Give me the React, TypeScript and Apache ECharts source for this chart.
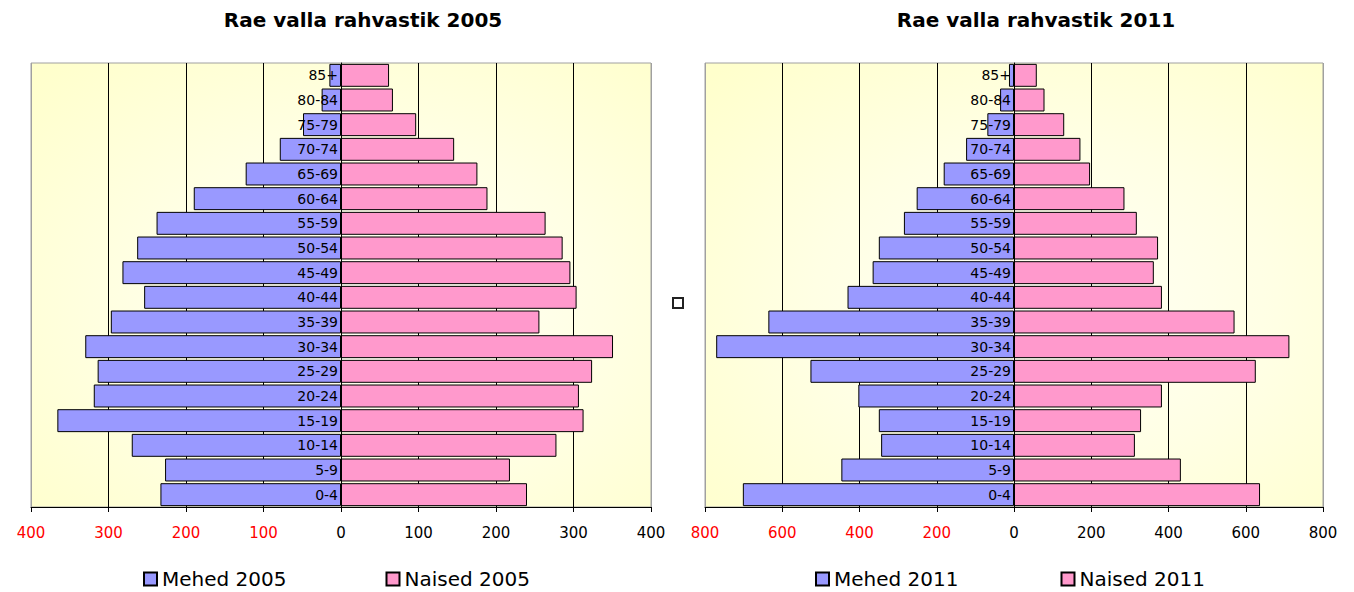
import React, { useEffect, useRef } from "react";
import * as echarts from "echarts";

const categories = ["0-4", "5-9", "10-14", "15-19", "20-24", "25-29", "30-34", "35-39", "40-44", "45-49", "50-54", "55-59", "60-64", "65-69", "70-74", "75-79", "80-84", "85+"];
const males2005 = [233, 227, 270, 366, 319, 314, 330, 297, 254, 282, 263, 238, 190, 123, 79, 49, 25, 15];
const females2005 = [240, 218, 278, 313, 307, 324, 351, 256, 304, 296, 286, 264, 189, 176, 146, 97, 67, 62];
const males2011 = [702, 447, 344, 350, 403, 527, 771, 636, 431, 366, 350, 285, 252, 182, 124, 69, 36, 13];
const females2011 = [637, 432, 313, 329, 383, 626, 713, 571, 383, 362, 373, 318, 286, 197, 172, 130, 79, 59];
const titles = ["Rae valla rahvastik 2005", "Rae valla rahvastik 2011"];
const seriesNames = [["Mehed 2005", "Naised 2005"], ["Mehed 2011", "Naised 2011"]];
const axisMax = [400, 800];
const axisStep = [100, 200];

const MALE = "#9999FF";
const FEMALE = "#FF99CC";
const FONT = "DejaVu Sans";

export default function App() {
  const ref = useRef<HTMLDivElement>(null);
  useEffect(() => {
    if (!ref.current) return;
    const chart = echarts.init(ref.current, null, { renderer: "svg" });
    const grids = [
      { left: 31, top: 63, width: 620, height: 444 },
      { left: 705, top: 63, width: 618, height: 444 },
    ];
    const bg = {
      type: "radial",
      x: 0.55,
      y: 0.55,
      r: 0.75,
      colorStops: [
        { offset: 0, color: "#FFFFF6" },
        { offset: 0.5, color: "#FFFFE4" },
        { offset: 1, color: "#FFFFCC" },
      ],
    };
    const splitColors = (n: number) => {
      const arr: string[] = [];
      for (let i = 0; i <= n; i++) arr.push(i === 0 || i === n ? "#A0A0A0" : "#000000");
      return arr;
    };
    const option: any = {
      animation: false,
      title: titles.map((t, i) => ({
        text: t,
        left: i === 0 ? 358 : 1031,
        textAlign: "center",
        top: 5,
        textStyle: { fontFamily: FONT, fontSize: 20, fontWeight: "bold", color: "#000" },
      })),
      legend: [0, 1].map((i) => ({
        data: seriesNames[i],
        left: i === 0 ? 143 : 815,
        top: 569,
        padding: 0,
        icon: "rect",
        itemWidth: 13,
        itemHeight: 13,
        itemGap: i === 0 ? 99 : 102,
        textStyle: { fontFamily: FONT, fontSize: 20, color: "#000" },
      })),
      grid: grids.map((g) => ({
        ...g,
        show: true,
        containLabel: false,
        outerBoundsMode: "none",
        backgroundColor: bg,
        borderColor: "#A0A0A0",
        borderWidth: 1,
      })),
      xAxis: [0, 1].map((i) => ({
        type: "value",
        gridIndex: i,
        min: -axisMax[i],
        max: axisMax[i],
        interval: axisStep[i],
        axisLine: { show: true, onZero: false, lineStyle: { color: "#000", width: 1 } },
        axisTick: { show: true, length: 5, lineStyle: { color: "#000" } },
        splitLine: { show: true, lineStyle: { color: splitColors((2 * axisMax[i]) / axisStep[i]), width: 1 } },
        axisLabel: {
          margin: 18,
          fontFamily: FONT,
          fontSize: 15,
          formatter: (v: number) => String(Math.abs(v)),
          color: (v: any) => (Number(v) < 0 ? "#FF0000" : "#000000"),
        },
      })),
      yAxis: [0, 1].map((i) => ({
        type: "category",
        gridIndex: i,
        data: categories,
        position: "left",
        offset: -grids[i].width / 2,
        z: 5,
        axisLine: { show: true, onZero: false, lineStyle: { color: "#000" } },
        axisTick: { show: false },
        splitLine: { show: false },
        axisLabel: { margin: 3, fontFamily: FONT, fontSize: 14, color: "#000" },
      })),
      series: [
        { data: males2005, i: 0, male: true },
        { data: females2005, i: 0, male: false },
        { data: males2011, i: 1, male: true },
        { data: females2011, i: 1, male: false },
      ].map((s) => ({
        type: "bar",
        name: seriesNames[s.i][s.male ? 0 : 1],
        xAxisIndex: s.i,
        yAxisIndex: s.i,
        data: s.data.map((v) => (s.male ? -v : v)),
        barGap: "-100%",
        barCategoryGap: "7%",
        itemStyle: { color: s.male ? MALE : FEMALE, borderColor: "#000", borderWidth: 1 },
      })),
      graphic: [
        {
          type: "rect",
          left: 672,
          top: 297,
          shape: { width: 10, height: 10 },
          style: { fill: "#fff", stroke: "#222", lineWidth: 2 },
        },
      ],
    };
    chart.setOption(option);
    return () => chart.dispose();
  }, []);
  return (
    <div
      ref={ref}
      style={{ position: "fixed", left: 0, top: 0, width: 1354, height: 592, background: "#fff" }}
    />
  );
}
